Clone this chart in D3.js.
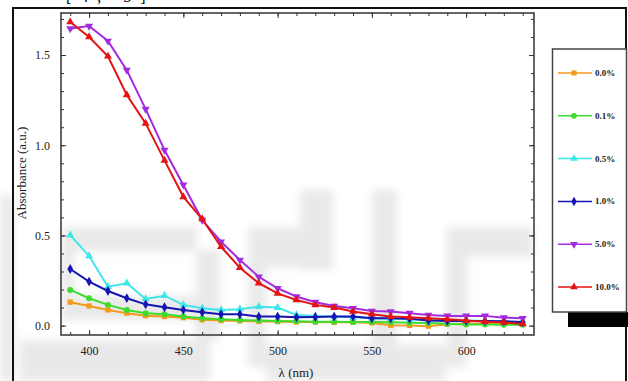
<!DOCTYPE html>
<html>
<head>
<meta charset="utf-8">
<script src="https://cdn.jsdelivr.net/npm/d3@7"></script>
<style>
  body { margin: 0; background: #fff; }
  svg { display: block; font-family: "Liberation Serif", "DejaVu Serif", serif; }
</style>
</head>
<body>
<div id="chart"></div>
<script>
// wavelengths (nm)
const wavelengths = [390, 400, 410, 420, 430, 440, 450, 460, 470, 480, 490, 500, 510,
                     520, 530, 540, 550, 560, 570, 580, 590, 600, 610, 620, 630];

const labels = ['0.0%', '0.1%', '0.5%', '1.0%', '5.0%', '10.0%'];
const colors = ['#f29a1c', '#3ddc2e', '#3ee6ea', '#1515b0', '#a22be0', '#e31414'];
const shapes = ['square', 'circle', 'triangle', 'diamond', 'triangleDown', 'triangle'];

const abs00 = [0.130, 0.109, 0.087, 0.069, 0.055, 0.050, 0.044, 0.032, 0.028, 0.026, 0.024, 0.022, 0.020,
               0.020, 0.018, 0.018, 0.015, 0.002, 0.001, -0.003, 0.008, 0.010, 0.012, 0.012, 0.010];
const abs01 = [0.198, 0.152, 0.115, 0.087, 0.069, 0.063, 0.050, 0.041, 0.035, 0.031, 0.028, 0.026, 0.024,
               0.022, 0.022, 0.020, 0.020, 0.018, 0.016, 0.014, 0.010, 0.006, 0.006, 0.005, 0.005];
const abs05 = [0.502, 0.386, 0.216, 0.235, 0.148, 0.166, 0.115, 0.096, 0.087, 0.091, 0.105, 0.100, 0.059,
               0.054, 0.050, 0.046, 0.042, 0.038, 0.035, 0.032, 0.030, 0.028, 0.025, 0.022, 0.020];
const abs10 = [0.314, 0.244, 0.192, 0.152, 0.118, 0.102, 0.087, 0.074, 0.063, 0.063, 0.050, 0.050, 0.046,
               0.048, 0.050, 0.050, 0.041, 0.041, 0.038, 0.028, 0.026, 0.026, 0.026, 0.024, 0.020];
const abs50 = [1.647, 1.661, 1.578, 1.416, 1.200, 0.973, 0.780, 0.585, 0.465, 0.364, 0.271, 0.207, 0.161,
               0.130, 0.109, 0.096, 0.081, 0.078, 0.069, 0.059, 0.054, 0.054, 0.054, 0.044, 0.041];
const abs100 = [1.683, 1.600, 1.493, 1.279, 1.121, 0.916, 0.714, 0.591, 0.437, 0.321, 0.235, 0.179, 0.142,
                0.115, 0.100, 0.078, 0.063, 0.050, 0.046, 0.041, 0.035, 0.028, 0.022, 0.018, 0.009];

const seriesValues = [abs00, abs01, abs05, abs10, abs50, abs100];

const xTicks = [400, 450, 500, 550, 600];
const yTicks = [0.0, 0.5, 1.0, 1.5];

const W = 628, H = 381;
const plot = { left: 61, top: 13, right: 534, bottom: 335 };

const svg = d3.select('#chart').append('svg').attr('width', W).attr('height', H);

// faint watermark in the background
const defs = svg.append('defs');
defs.append('filter').attr('id', 'blur').append('feGaussianBlur').attr('stdDeviation', 4);
const wm = svg.append('g').attr('filter', 'url(#blur)').attr('fill', '#e9e9e9');
[[0, 195, 14, 186], [62, 227, 135, 24], [62, 250, 12, 50], [62, 296, 145, 24], [196, 250, 24, 90],
 [20, 340, 190, 41], [248, 227, 85, 40], [248, 267, 18, 100], [300, 190, 33, 80],
 [372, 190, 25, 175], [447, 227, 86, 30], [447, 257, 20, 110], [266, 345, 180, 36]]
  .forEach(r => wm.append('rect').attr('x', r[0]).attr('y', r[1]).attr('width', r[2]).attr('height', r[3]));

// outer frame
svg.append('rect').attr('x', 13).attr('y', 8).attr('width', 613).attr('height', 380)
  .attr('fill', 'none').attr('stroke', '#111').attr('stroke-width', 2);

// partially cut caption at the very top
svg.append('text').attr('x', 66).attr('y', 2).attr('font-size', 16)
  .attr('letter-spacing', 9).text('[4, 5]');

const x = d3.scaleLinear().domain([385.1, 636]).range([plot.left, plot.right]);
const y = d3.scaleLinear().domain([-0.052, 1.733]).range([plot.bottom, plot.top]);

const minorX = d3.range(390, 631, 10);
const minorY = d3.range(-0.0, 1.71, 0.1);

function axisStyle(g) {
  g.select('.domain').remove();
  g.selectAll('.tick line').attr('stroke', '#333');
  g.selectAll('.tick text').attr('font-size', 12).attr('fill', '#222')
    .attr('font-family', '"Liberation Serif", serif');
}

// minor ticks
svg.append('g').attr('transform', `translate(0,${plot.bottom})`)
  .call(d3.axisBottom(x).tickValues(minorX).tickSize(-3).tickFormat('')).call(axisStyle);
svg.append('g').attr('transform', `translate(0,${plot.top})`)
  .call(d3.axisTop(x).tickValues(minorX).tickSize(-3).tickFormat('')).call(axisStyle);
svg.append('g').attr('transform', `translate(${plot.left},0)`)
  .call(d3.axisLeft(y).tickValues(minorY).tickSize(-3).tickFormat('')).call(axisStyle);
svg.append('g').attr('transform', `translate(${plot.right},0)`)
  .call(d3.axisRight(y).tickValues(minorY).tickSize(-3).tickFormat('')).call(axisStyle);

// major ticks
svg.append('g').attr('transform', `translate(0,${plot.bottom})`)
  .call(d3.axisBottom(x).tickValues(xTicks).tickSize(-5).tickPadding(11).tickFormat(d3.format('d')))
  .call(axisStyle);
svg.append('g').attr('transform', `translate(0,${plot.top})`)
  .call(d3.axisTop(x).tickValues(xTicks).tickSize(-5).tickFormat('')).call(axisStyle);
svg.append('g').attr('transform', `translate(${plot.left},0)`)
  .call(d3.axisLeft(y).tickValues(yTicks).tickSize(-5).tickPadding(11).tickFormat(d3.format('.1f')))
  .call(axisStyle);
svg.append('g').attr('transform', `translate(${plot.right},0)`)
  .call(d3.axisRight(y).tickValues(yTicks).tickSize(-5).tickFormat('')).call(axisStyle);

// plot frame
svg.append('rect').attr('x', plot.left).attr('y', plot.top)
  .attr('width', plot.right - plot.left).attr('height', plot.bottom - plot.top)
  .attr('fill', 'none').attr('stroke', '#333').attr('stroke-width', 1.5);

// axis titles
svg.append('text').attr('transform', 'translate(26,173) rotate(-90)')
  .attr('text-anchor', 'middle').attr('font-size', 13).attr('fill', '#222').text('Absorbance (a.u.)');
svg.append('text').attr('x', 296).attr('y', 377)
  .attr('text-anchor', 'middle').attr('font-size', 13).attr('fill', '#222').text('λ (nm)');

function symbolPath(name, size) {
  const types = { square: d3.symbolSquare, circle: d3.symbolCircle, triangle: d3.symbolTriangle,
                  diamond: d3.symbolDiamond, triangleDown: d3.symbolTriangle };
  return d3.symbol().type(types[name]).size(size)();
}

const line = d3.line().x((d, i) => x(wavelengths[i])).y(d => y(d));

const series = svg.append('g');
seriesValues.forEach((vals, k) => {
  const g = series.append('g');
  g.append('path').datum(vals).attr('d', line)
    .attr('fill', 'none').attr('stroke', colors[k]).attr('stroke-width', 2);
  g.selectAll('path.m').data(vals).enter().append('path').attr('class', 'm')
    .attr('d', symbolPath(shapes[k], 28))
    .attr('transform', (d, i) => `translate(${x(wavelengths[i])},${y(d)})` +
      (shapes[k] === 'triangleDown' ? ' rotate(180)' : ''))
    .attr('fill', colors[k]);
});

// legend
svg.append('rect').attr('x', 568).attr('y', 312).attr('width', 62).attr('height', 15).attr('fill', '#000');
svg.append('rect').attr('x', 552.5).attr('y', 49).attr('width', 74).attr('height', 263)
  .attr('fill', '#fff').attr('stroke', '#444').attr('stroke-width', 1.5);

const legendY = d3.scalePoint().domain(labels).range([73, 287]);
labels.forEach((lab, k) => {
  const ly = legendY(lab);
  const g = svg.append('g');
  g.append('line').attr('x1', 558).attr('x2', 592).attr('y1', ly).attr('y2', ly)
    .attr('stroke', colors[k]).attr('stroke-width', 1.5);
  g.append('path').attr('d', symbolPath(shapes[k], 26))
    .attr('transform', `translate(574,${ly})` + (shapes[k] === 'triangleDown' ? ' rotate(180)' : ''))
    .attr('fill', colors[k]);
  g.append('text').attr('x', 595).attr('y', ly + 3).attr('font-size', 9)
    .attr('font-weight', 'bold').attr('fill', '#222').text(lab);
});
</script>
</body>
</html>
